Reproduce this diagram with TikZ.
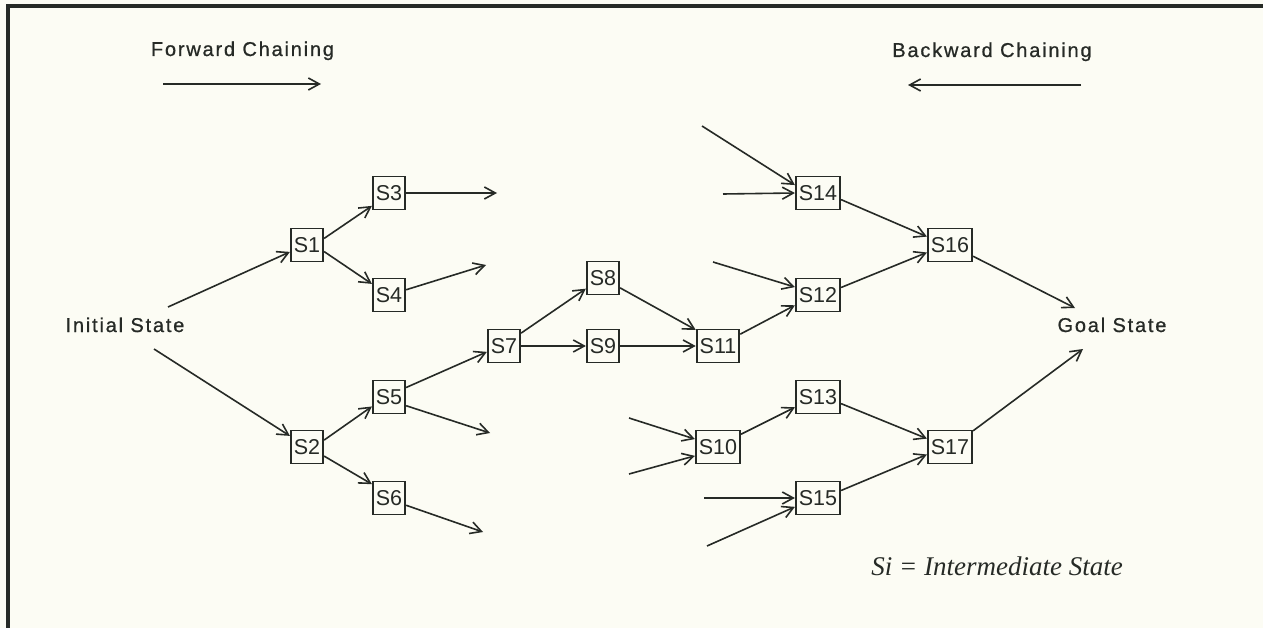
\documentclass[tikz,border=0pt]{standalone}
\usepackage{fontspec}
\usetikzlibrary{arrows.meta}
\newfontfamily\labfont[LetterSpace=9,FakeBold=0.8]{Liberation Sans}
\newfontfamily\boxfont{Liberation Sans}
\newfontfamily\notefont{Liberation Serif}
\definecolor{paper}{RGB}{252,252,244}
\definecolor{ink}{RGB}{38,42,38}
\tikzset{
  sbox/.style={draw=ink, line width=1.9pt, text=ink, font=\boxfont\fontsize{21.5}{21.5}\selectfont,
    inner xsep=3pt, inner ysep=0pt, minimum height=33pt},
  lab/.style={text=ink, font=\labfont\fontsize{20}{20}\selectfont, anchor=base, inner sep=0pt},
  conn/.style={draw=ink, line width=1.6pt, -{Straight Barb[length=11pt,width=12pt,line width=1.6pt]}},
}
\begin{document}
\begin{tikzpicture}[x=1pt,y=-1pt]
\useasboundingbox[fill=paper] (0,0) rectangle (1263,628);
% frame
\draw[ink, line width=3.5pt] (8,628) -- (8,6) -- (1263,6);

% labels
\node[lab] (fwd) at (242.5,56) {Forward Chaining};
\node[lab] (bwd) at (992,57) {Backward Chaining};
\node[lab] (init) at (125,332) {Initial State};
\node[lab] (goal) at (1112,332) {Goal State};
\node[text=ink, font=\notefont\itshape\fontsize{27}{27}\selectfont, anchor=base, inner sep=0pt] (note) at (997,575) {Si = Intermediate State};

% direction arrows
\coordinate (fa) at (163,84); \coordinate (fb) at (321,84);
\coordinate (ba) at (1081,85); \coordinate (bb) at (908,85);
\draw[conn] (fa) -- (fb);
\draw[conn] (ba) -- (bb);

% state boxes
\node[sbox] (S1) at (307,245) {S1};
\node[sbox] (S2) at (307,447) {S2};
\node[sbox] (S3) at (389,193) {S3};
\node[sbox] (S4) at (389,295) {S4};
\node[sbox] (S5) at (389,397) {S5};
\node[sbox] (S6) at (389,498) {S6};
\node[sbox] (S7) at (504,346) {S7};
\node[sbox] (S8) at (603,278) {S8};
\node[sbox] (S9) at (603,346) {S9};
\node[sbox] (S11) at (718,346) {S11};
\node[sbox] (S10) at (718,447) {S10};
\node[sbox] (S12) at (818,295) {S12};
\node[sbox] (S13) at (818,397) {S13};
\node[sbox] (S14) at (818,193) {S14};
\node[sbox] (S15) at (818,498) {S15};
\node[sbox] (S16) at (950,245) {S16};
\node[sbox] (S17) at (950,447) {S17};

% free ends
\coordinate (i1) at (168,307); \coordinate (i2) at (154,349);
\coordinate (g1) at (1075,308); \coordinate (g2) at (1083,349);
\coordinate (f3) at (497,193); \coordinate (f4) at (486,265);
\coordinate (f5) at (490,433); \coordinate (f6) at (483,532);
\coordinate (b14a) at (702,126); \coordinate (b14b) at (723,194);
\coordinate (b12) at (713,262);
\coordinate (b10a) at (629,418); \coordinate (b10b) at (629,474);
\coordinate (b15a) at (704,498); \coordinate (b15b) at (707,546);

% forward part
\draw[conn] (i1) -- (S1.202);
\draw[conn] (i2) -- (S2.147);
\draw[conn] (S1.21) -- (S3.217);
\draw[conn] (S1.-21) -- (S4.147);
\draw[conn] (S2.22) -- (S5.209);
\draw[conn] (S2.-28) -- (S6.141);
\draw[conn] (S3.east) -- (f3);
\draw[conn] (S4.17) -- (f4);
\draw[conn] (S5.-27) -- (f5);
\draw[conn] (S6.-23) -- (f6);
\draw[conn] (S5.29) -- (S7.199);
\draw[conn] (S7.37) -- (S8.212);
\draw[conn] (S7.east) -- (S9.west);
\draw[conn] (S8.-30) -- (S11.144);
\draw[conn] (S9.east) -- (S11.west);
\draw[conn] (S11.28) -- (S12.204);

% backward part
\draw[conn] (b14a) -- (S14.161);
\draw[conn] (b14b) -- (S14.west);
\draw[conn] (b12) -- (S12.161);
\draw[conn] (S14.-16) -- (S16.160);
\draw[conn] (S12.18) -- (S16.198);
\draw[conn] (S16.-26) -- (g1);
\draw[conn] (b10a) -- (S10.161);
\draw[conn] (b10b) -- (S10.201);
\draw[conn] (S10.29) -- (S13.204);
\draw[conn] (b15a) -- (S15.west);
\draw[conn] (b15b) -- (S15.201);
\draw[conn] (S13.-16) -- (S17.160);
\draw[conn] (S15.18) -- (S17.198);
\draw[conn] (S17.35) -- (g2);
\end{tikzpicture}
\end{document}
